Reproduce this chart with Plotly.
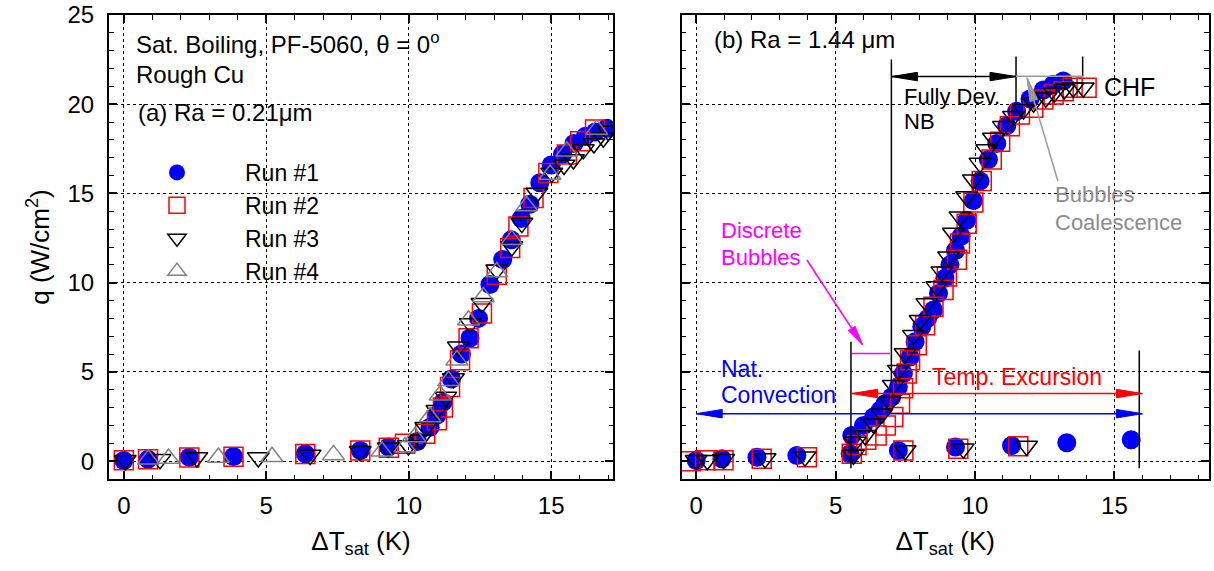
import math
import plotly.graph_objects as go

# ---------------- data ----------------
# (a) Ra = 0.21 um
a_run1_dt = [0.0, 0.85, 2.3, 3.85, 6.37, 8.3, 9.29, 10.3, 10.75, 11.0, 11.2, 11.5, 11.85, 12.15,
             12.45, 12.85, 13.3, 13.6, 13.95, 14.25, 14.6, 15.0, 15.4, 15.8, 16.2, 16.55, 16.95]
a_run1_q = [0.04, 0.1, 0.22, 0.26, 0.41, 0.6, 0.79, 1.1, 1.9, 2.6, 3.3, 4.6, 6.0, 6.9,
            8.0, 9.9, 11.3, 12.4, 13.6, 14.4, 15.6, 16.6, 17.2, 17.8, 18.2, 18.45, 18.65]

a_run2_dt = [0.0, 0.85, 2.3, 3.85, 6.37, 8.3, 9.3, 9.87, 10.58, 10.99, 11.2, 11.45, 11.8, 12.1,
             12.57, 13.09, 13.56, 13.85, 14.38, 14.9, 15.55, 16.02, 16.54]
a_run2_q = [0.05, 0.1, 0.2, 0.25, 0.4, 0.6, 0.75, 0.98, 1.54, 2.29, 3.0, 4.16, 5.66, 6.88,
            8.28, 10.44, 11.94, 13.15, 14.75, 16.15, 17.18, 17.93, 18.59]

a_run3_dt = [0.05, 1.27, 2.56, 4.72, 6.54, 8.3, 9.28, 9.99, 10.4, 10.6, 10.99, 11.3, 11.57, 11.74,
             12.16, 12.57, 13.09, 13.62, 13.97, 14.5, 15.02, 15.45, 15.78, 16.13, 16.5, 16.83, 17.0]
a_run3_q = [0.05, 0.1, 0.2, 0.2, 0.35, 0.55, 0.75, 0.88, 1.2, 1.9, 2.85, 3.6, 4.63, 6.41,
            7.72, 8.85, 10.72, 12.03, 13.34, 15.03, 16.15, 16.6, 16.9, 17.47, 17.8, 18.12, 18.5]

a_run4_dt = [0.86, 1.57, 3.32, 5.2, 7.36, 9.06, 9.87, 10.22, 10.75, 11.1, 11.4, 11.69, 12.1, 12.62,
             13.09, 13.62, 14.14, 14.96, 15.55, 16.6]
a_run4_q = [0.1, 0.15, 0.2, 0.25, 0.35, 0.55, 0.8, 1.35, 2.47, 3.69, 4.5, 5.66, 7.9, 9.2,
            10.6, 12.4, 14.3, 16.06, 17.37, 18.59]

# (b) Ra = 1.44 um
b_run1_dt = [0.0, 0.92, 2.18, 3.61, 5.52, 7.25, 9.3, 11.31, 13.29, 15.6,
             5.58, 6.0, 6.36, 6.6, 6.77, 7.01, 7.25, 7.43, 7.67, 7.85, 8.09, 8.3, 8.51, 8.69,
             8.92, 9.1, 9.3, 9.5, 9.7, 9.94, 10.18, 10.48, 10.78, 11.14, 11.49, 11.97, 12.45,
             12.8, 13.16]
b_run1_q = [0.04, 0.13, 0.22, 0.32, 0.41, 0.6, 0.79, 0.88, 1.03, 1.2,
            1.44, 2.0, 2.47, 2.85, 3.22, 3.6, 4.16, 4.91, 5.84, 6.69, 7.53, 8.0, 8.47, 9.4,
            10.25, 11.0, 11.8, 12.6, 13.5, 14.6, 15.7, 16.9, 17.8, 18.8, 19.6, 20.3, 20.8,
            21.1, 21.3]

b_run2_dt = [-0.2, 0.32, 0.98, 2.35, 3.97, 5.58, 7.43, 9.4, 11.55,
             5.75, 6.1, 6.47, 6.8, 7.07, 7.31, 7.42, 7.55, 7.67, 7.91, 8.21, 8.51, 8.87, 8.99,
             9.35, 9.46, 9.7, 9.94, 10.24, 10.6, 10.9, 11.25, 11.61, 12.09, 12.45, 12.82,
             13.18, 13.5, 14.0]
b_run2_q = [0.0, 0.05, 0.05, 0.13, 0.22, 0.41, 0.6, 0.7, 0.83,
            0.9, 1.2, 1.44, 2.0, 2.47, 3.22, 4.08, 4.91, 5.66, 6.5, 7.62, 8.65, 9.59, 10.34,
            11.28, 12.2, 13.3, 14.5, 15.7, 16.9, 17.9, 18.76, 19.42, 19.8, 20.26, 20.54,
            20.73, 20.92, 20.92]

b_run3_dt = [0.0, 0.4, 0.98, 2.47, 3.9, 5.64, 7.49, 9.58, 11.85,
             5.7, 6.06, 6.36, 6.66, 6.95, 7.07, 7.25, 7.49, 7.79, 8.03, 8.27, 8.63, 8.81, 9.05,
             9.22, 9.46, 9.7, 9.94, 10.18, 10.42, 10.66, 11.02, 11.38, 11.74, 12.1, 12.54,
             12.84, 13.2, 13.52, 13.88]
b_run3_q = [0.05, 0.05, 0.1, 0.15, 0.25, 0.35, 0.6, 0.7, 0.85,
            1.07, 1.44, 2.1, 2.66, 3.31, 4.25, 5.1, 6.03, 7.06, 7.9, 8.84, 9.78, 10.62, 11.46,
            12.78, 13.7, 14.83, 15.77, 16.7, 17.46, 18.11, 18.76, 19.33, 19.7, 20.08, 20.36,
            20.64, 20.83, 20.92, 20.92]

run_names = ["Run #1", "Run #2", "Run #3", "Run #4"]
x_ticks = [0, 5, 10, 15]

# ---------------- layout geometry ----------------
W, H = 1214, 571
FONT = "Liberation Sans, Arial, sans-serif"
xdom_a = [109 / W, 613 / W]
xdom_b = [681.7 / W, 1208.7 / W]
ydom = [92 / H, 556 / H]
xrange_a = [-0.52, 17.17]
xrange_b = [-0.52, 18.38]
yrange = [-1, 25]

BLUE, RED, BLACK, GRAY = "#0000ff", "#ff0000", "#000000", "#808080"
MAGENTA, TXTGRAY, ARRGRAY = "#ff00ff", "#8c8c8c", "#9a9a9a"

styles = [
    dict(symbol="circle", size=19, color=BLUE, line=dict(width=0)),
    dict(symbol="square-open", size=19, color=RED, line=dict(width=1.5)),
    dict(symbol="triangle-down-open", size=19, color=BLACK, line=dict(width=1.5)),
    dict(symbol="triangle-up-open", size=19, color=GRAY, line=dict(width=1.5)),
]

fig = go.Figure()

a_sets = [(a_run1_dt, a_run1_q), (a_run2_dt, a_run2_q), (a_run3_dt, a_run3_q), (a_run4_dt, a_run4_q)]
for (xs, ys), st, nm in zip(a_sets, styles, run_names):
    fig.add_trace(go.Scatter(x=xs, y=ys, mode="markers", marker=st, name=nm,
                             xaxis="x", yaxis="y", showlegend=True))

b_sets = [(b_run1_dt, b_run1_q), (b_run2_dt, b_run2_q), (b_run3_dt, b_run3_q)]
for (xs, ys), st, nm in zip(b_sets, styles, run_names):
    fig.add_trace(go.Scatter(x=xs, y=ys, mode="markers", marker=st, name=nm,
                             xaxis="x2", yaxis="y2", showlegend=False))

axis_common = dict(
    showline=True, linecolor="black", linewidth=2, mirror="ticks",
    ticks="inside", ticklen=8, tickwidth=1.5, tickcolor="black",
    showgrid=True, gridcolor="black", griddash="dot", gridwidth=1,
    zeroline=False, tickfont=dict(family=FONT, size=24, color="black"),
    minor=dict(ticks="inside", ticklen=4.5, tickwidth=1.2, tickcolor="black",
               dtick=1, showgrid=False),
)

xtitle = dict(text="\u0394T<sub>sat</sub> (K)", font=dict(family=FONT, size=26, color="black"),
              standoff=14)

fig.update_layout(
    width=W, height=H, template="none",
    paper_bgcolor="white", plot_bgcolor="white",
    margin=dict(l=0, r=0, t=0, b=0),
    font=dict(family=FONT, color="black"),
    xaxis=dict(domain=xdom_a, range=xrange_a, anchor="y", tickvals=x_ticks,
               ticklabelstandoff=4, title=xtitle, **axis_common),
    yaxis=dict(domain=ydom, range=yrange, anchor="x", dtick=5, tick0=0,
               ticklabelstandoff=8,
               title=dict(text="q (W/cm<sup>2</sup>)", font=dict(family=FONT, size=26, color="black"),
                          standoff=10),
               **axis_common),
    xaxis2=dict(domain=xdom_b, range=xrange_b, anchor="y2", tickvals=x_ticks,
                ticklabelstandoff=4, title=xtitle, **axis_common),
    yaxis2=dict(domain=ydom, range=yrange, anchor="x2", dtick=5, tick0=0,
                showticklabels=False, **axis_common),
    legend=dict(x=109 / W, y=1 - 151 / H, xanchor="left", yanchor="top",
                font=dict(family=FONT, size=23, color="black"),
                bgcolor="rgba(0,0,0,0)", borderwidth=0, itemwidth=126,
                tracegroupgap=0, itemclick=False),
)

# ---------------- annotation helpers ----------------
px_per_x_b = (xdom_b[1] - xdom_b[0]) * W / (xrange_b[1] - xrange_b[0])
px_per_y = (ydom[1] - ydom[0]) * H / (yrange[1] - yrange[0])


def text(x, y, s, color="black", size=23, xref="x2", yref="y2"):
    fig.add_annotation(x=x, y=y, xref=xref, yref=yref, text=s, showarrow=False,
                       xanchor="left", yanchor="middle",
                       font=dict(family=FONT, size=size, color=color))


def seg(x0, y0, x1, y1, color, width=1.5, layer="above", xref="x2", yref="y2"):
    fig.add_shape(type="line", x0=x0, y0=y0, x1=x1, y1=y1, xref=xref, yref=yref,
                  line=dict(color=color, width=width), layer=layer)


def head(x, y, dx, dy, color, length=26, half=4.2, xref="x2", yref="y2"):
    """Filled arrowhead with its tip at (x, y), pointing along the data direction (dx, dy)."""
    ang = math.atan2(dy * px_per_y, dx * px_per_x_b)
    c, s = math.cos(ang), math.sin(ang)
    pts = [(0, 0), (-length, -half), (-length, half)]
    rot = [(px * c - py * s, px * s + py * c) for px, py in pts]
    path = "M{:.2f},{:.2f} L{:.2f},{:.2f} L{:.2f},{:.2f} Z".format(*[v for p in rot for v in p])
    fig.add_shape(type="path", xref=xref, yref=yref, xsizemode="pixel", ysizemode="pixel",
                  xanchor=x, yanchor=y, path=path, fillcolor=color,
                  line=dict(color=color, width=1), layer="above")


def double_arrow(x0, x1, y, color, length=26, half=4.2):
    seg(x0, y, x1, y, color)
    head(x0, y, -1, 0, color, length, half)
    head(x1, y, 1, 0, color, length, half)


# ---------------- panel (a) text ----------------
text(0.34, 23.45, "Sat. Boiling, PF-5060, \u03b8 = 0<sup>o</sup>", size=24, xref="x", yref="y")
text(0.34, 21.67, "Rough Cu", size=24, xref="x", yref="y")
text(0.43, 19.52, "(a) Ra = 0.21\u03bcm", size=24, xref="x", yref="y")

# ---------------- panel (b) regime markings ----------------
text(0.55, 23.6, "(b) Ra = 1.44 \u03bcm", size=24)

# fully developed nucleate boiling
seg(7.0, 22.5, 7.0, 3.8, BLACK, layer="between")
seg(11.47, 22.68, 11.47, 19.6, BLACK, layer="between")
seg(13.86, 22.68, 13.86, 21.55, BLACK)
double_arrow(7.0, 11.47, 21.55, BLACK)
seg(11.47, 21.57, 13.86, 21.57, ARRGRAY)
text(7.37, 20.45, "Fully Dev.", size=22)
text(7.37, 19.05, "NB", size=22)
text(14.54, 20.94, "CHF", size=25)

# bubble coalescence
seg(12.97, 15.7, 11.88, 21.45, ARRGRAY)
head(11.86, 21.5, -1.11, 5.8, ARRGRAY, length=24, half=4)
text(12.8, 14.93, "Bubbles", TXTGRAY, size=22)
text(12.8, 13.4, "Coalescence", TXTGRAY, size=22)

# discrete bubbles
text(0.8, 12.95, "Discrete", MAGENTA, size=22)
text(0.8, 11.43, "Bubbles", MAGENTA, size=22)
seg(3.97, 11.27, 5.95, 6.55, MAGENTA)
head(5.97, 6.5, 1.98, -4.72, MAGENTA, length=20, half=4)
seg(5.58, 6.03, 6.95, 6.03, MAGENTA)

# temperature excursion
seg(5.55, 6.69, 5.55, -0.4, BLACK)
seg(15.89, 6.2, 15.89, -0.4, BLACK)
double_arrow(5.58, 16.0, 3.79, RED)
text(8.39, 4.72, "Temp. Excursion", RED, size=23)

# natural convection
double_arrow(0.0, 16.0, 2.66, BLUE)
text(0.8, 5.19, "Nat.", BLUE, size=23)
text(0.8, 3.69, "Convection", BLUE, size=23)

fig.write_html("out.html")
